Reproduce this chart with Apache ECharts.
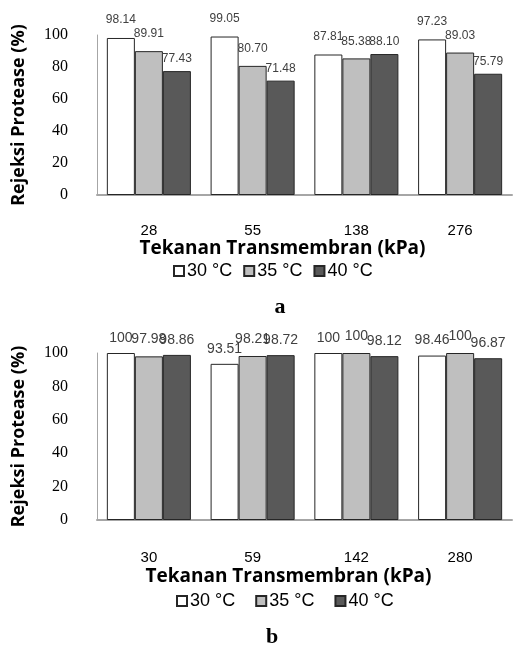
<!DOCTYPE html>
<html>
<head>
<meta charset="utf-8">
<script src="https://cdn.jsdelivr.net/npm/echarts@6/dist/echarts.min.js"></script>
<style>html,body{margin:0;padding:0;background:#fff}#c{width:527px;height:646px}</style>
</head>
<body>
<div id="c"></div>
<script>
const categoriesA = ['28', '55', '138', '276'];
const categoriesB = ['30', '59', '142', '280'];
const seriesNames = ['30 °C', '35 °C', '40 °C'];
const a30 = [98.14, 99.05, 87.81, 97.23];
const a35 = [89.91, 80.70, 85.38, 89.03];
const a40 = [77.43, 71.48, 88.10, 75.79];
const b30 = [100, 93.51, 100, 98.46];
const b35 = [97.98, 98.21, 100, 100];
const b40 = [98.86, 98.72, 98.12, 96.87];
const yTicks = [0, 20, 40, 60, 80, 100];
const panelLabels = ['a', 'b'];

const colors = ['#ffffff', '#bfbfbf', '#595959'];
const fmt = p => Number.isInteger(p.value) ? String(p.value) : p.value.toFixed(2);

function yAxis(gi) {
  return {
    type: 'value', gridIndex: gi,
    min: yTicks[0], max: yTicks[yTicks.length - 1], interval: yTicks[1] - yTicks[0],
    name: 'Rejeksi Protease (%)', nameLocation: 'middle', nameGap: 69, nameRotate: 90,
    nameTextStyle: { fontFamily: 'Open Sans', fontWeight: 'bold', fontSize: 18, color: '#000' },
    axisLine: { show: true, lineStyle: { color: '#a6a6a6', width: 1 } },
    axisTick: { show: false },
    splitLine: { show: false },
    axisLabel: { fontFamily: 'Liberation Serif', fontSize: 16, color: '#000', margin: 29 }
  };
}
function xAxis(gi, cats, margin, gap, shift) {
  return {
    type: 'category', gridIndex: gi, data: cats,
    name: 'Tekanan Transmembran (kPa)', nameLocation: 'middle', nameGap: gap,
    nameTextStyle: { fontFamily: 'Open Sans', fontWeight: 'bold', fontSize: 19, color: '#000',
      padding: [0, shift, 0, 0] },
    axisLine: { show: true, lineStyle: { color: '#a6a6a6', width: 2 } },
    axisTick: { show: false },
    axisLabel: { fontFamily: 'Liberation Sans', fontSize: 15, color: '#000', margin: margin }
  };
}
function bar(name, data, gi, ci, fs, dist) {
  return {
    type: 'bar', name: name, data: data,
    xAxisIndex: gi, yAxisIndex: gi,
    barGap: '0%', barCategoryGap: '19%',
    itemStyle: { color: colors[ci], borderColor: '#262626', borderWidth: 1 },
    label: { show: true, position: 'top', distance: dist, formatter: fmt,
      fontFamily: 'Liberation Sans', fontSize: fs, color: '#404040' },
    emphasis: { disabled: true }
  };
}

const chart = echarts.init(document.getElementById('c'), null, { renderer: 'canvas' });
chart.setOption({
  animation: false,
  backgroundColor: '#fff',
  grid: [
    { left: 97, width: 415, top: 35, height: 160 },
    { left: 97, width: 415, top: 353, height: 167 }
  ],
  title: [
    { text: panelLabels[0], left: 275, top: 291, textAlign: 'center',
      textStyle: { fontFamily: 'Liberation Serif', fontWeight: 'bold', fontSize: 22, color: '#000' } },
    { text: panelLabels[1], left: 267, top: 621, textAlign: 'center',
      textStyle: { fontFamily: 'Liberation Serif', fontWeight: 'bold', fontSize: 22, color: '#000' } }
  ],
  legend: [
    { left: 168, top: 257, itemWidth: 10, itemHeight: 10, itemGap: 11, icon: 'rect',
      data: seriesNames, selectedMode: false,
      textStyle: { fontFamily: 'Liberation Sans', fontSize: 18, color: '#000', padding: [0, 0, 0, -2] } },
    { left: 171, top: 587, itemWidth: 10, itemHeight: 10, itemGap: 20, icon: 'rect',
      data: seriesNames, selectedMode: false,
      textStyle: { fontFamily: 'Liberation Sans', fontSize: 18, color: '#000', padding: [0, 0, 0, -2] } }
  ],
  xAxis: [xAxis(0, categoriesA, 28, 42, 44), xAxis(1, categoriesB, 30, 47, 32)],
  yAxis: [yAxis(0), yAxis(1)],
  series: [
    bar(seriesNames[0], a30, 0, 0, 12, 12),
    bar(seriesNames[1], a35, 0, 1, 12, 11),
    bar(seriesNames[2], a40, 0, 2, 12, 6),
    bar(seriesNames[0], b30, 1, 0, 14, 8),
    bar(seriesNames[1], b35, 1, 1, 14, 10),
    bar(seriesNames[2], b40, 1, 2, 14, 8)
  ]
});
</script>
</body>
</html>
